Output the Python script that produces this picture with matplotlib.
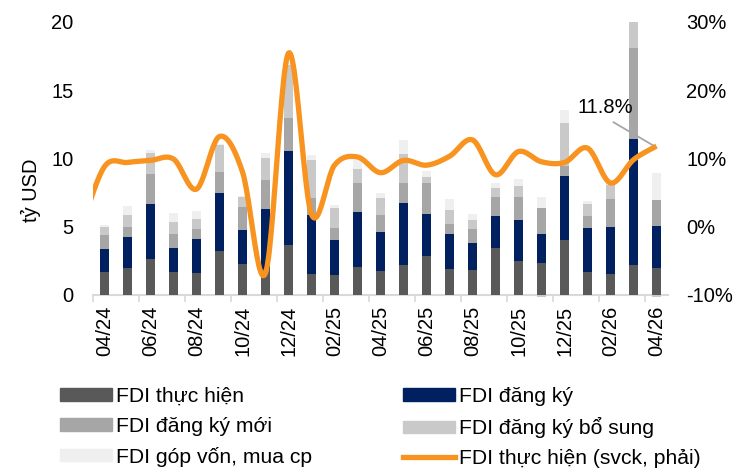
import numpy as np
import matplotlib
matplotlib.use("Agg")
from matplotlib import pyplot as plt
from matplotlib.patches import Patch
from matplotlib.lines import Line2D

plt.rcParams['font.family'] = ['Liberation Sans', 'DejaVu Sans']

months = ["04/24", "05/24", "06/24", "07/24", "08/24", "09/24", "10/24", "11/24", "12/24",
          "01/25", "02/25", "03/25", "04/25", "05/25", "06/25", "07/25", "08/25", "09/25",
          "10/25", "11/25", "12/25", "01/26", "02/26", "03/26", "04/26"]

# tỷ USD
fdi_thuc_hien = [1.66, 1.95, 2.61, 1.71, 1.59, 3.20, 2.27, 1.90, 3.66, 1.54, 1.44, 2.05, 1.78,
                 2.19, 2.85, 1.90, 1.83, 3.41, 2.49, 2.32, 4.02, 1.71, 1.54, 2.19, 2.00]
fdi_dang_ky = [1.70, 2.32, 4.05, 1.75, 2.51, 4.28, 2.48, 4.37, 6.87, 4.31, 2.58, 4.04, 2.85,
               4.56, 3.10, 2.56, 2.00, 2.39, 3.00, 2.14, 4.71, 3.22, 3.46, 9.22, 3.05]
fdi_moi = [1.03, 0.73, 2.19, 1.00, 0.73, 1.52, 1.67, 2.14, 2.40, 1.27, 0.88, 2.12, 1.24,
           1.42, 2.26, 0.71, 1.02, 1.37, 1.70, 1.88, 0.71, 0.85, 2.02, 6.70, 1.90]
fdi_bo_sung = [0.60, 0.85, 1.56, 0.90, 0.73, 1.97, 0.73, 1.59, 3.90, 2.76, 1.46, 1.01, 1.25,
               2.14, 0.44, 1.05, 0.66, 0.68, 0.78, -0.17, 3.16, 0.88, 1.00, 1.90, -0.17]
fdi_gop_von = [0.10, 0.68, 0.20, 0.61, 0.58, 0.05, 0.10, 0.37, 0.20, 0.36, 0.22, 0.66, 0.36,
               1.03, 0.44, 0.80, 0.39, 0.36, 0.52, 0.81, 0.93, 0.20, 0.20, 0.00, 1.95]

# %, trục phải (điểm đầu tiên là 03/24, nằm ngoài khung)
line_months = ["03/24"] + months
fdi_svck = [0.0, 8.8, 9.4, 9.7, 9.9, 5.5, 13.2, 8.0, -6.8, 25.4, 1.8, 9.0, 10.2, 7.9,
            9.7, 9.0, 10.3, 12.7, 7.6, 11.0, 9.5, 9.4, 11.5, 6.4, 9.8, 11.8]

c_th = '#595959'
c_dk = '#002060'
c_moi = '#A6A6A6'
c_bs = '#C9C9C9'
c_gv = '#EFEFEF'
c_line = '#F7931E'


def smooth(xs, ys, n=24):
    pts = np.column_stack([xs, ys]).astype(float)
    p = np.vstack([pts[0], pts, pts[-1]])
    out = []
    t = np.linspace(0, 1, n, endpoint=False)[:, None]
    for i in range(1, len(p) - 2):
        p0, p1, p2, p3 = p[i - 1], p[i], p[i + 1], p[i + 2]
        c1 = p1 + (p2 - p0) / 6
        c2 = p2 - (p3 - p1) / 6
        seg = (1 - t) ** 3 * p1 + 3 * (1 - t) ** 2 * t * c1 + 3 * (1 - t) * t ** 2 * c2 + t ** 3 * p2
        out.append(seg)
    out.append(pts[-1:])
    return np.vstack(out)


fig = plt.figure(figsize=(7.47, 4.70), dpi=100)
ax = fig.add_axes([93 / 747, 175 / 470, 575 / 747, 273.3 / 470])
ax2 = ax.twinx()
ax.set_zorder(1)
ax2.set_zorder(2)

x = np.arange(len(months))
w = 0.42
series = [(fdi_thuc_hien, c_th), (fdi_dang_ky, c_dk), (fdi_moi, c_moi),
          (fdi_bo_sung, c_bs), (fdi_gop_von, c_gv)]
bottom = np.zeros(len(months))
for vals, col in series:
    vals = np.array(vals)
    b = np.where(vals >= 0, bottom, 0)
    ax.bar(x, vals, w, bottom=b, color=col, linewidth=0, clip_on=False, zorder=2)
    bottom = bottom + np.clip(vals, 0, None)

ax.set_xlim(-0.5, len(months) - 0.5)
ax.set_ylim(0, 20)
ax.set_yticks([0, 5, 10, 15, 20])
ax.set_xticks(x[::2])
ax.set_xticklabels(months[::2], rotation=90)
ax.set_xticks(np.arange(-0.5, len(months), 2), minor=True)
ax.tick_params(axis='x', which='major', length=0, pad=8, labelsize=14.5)
ax.tick_params(axis='x', which='minor', length=5, color='#D9D9D9', width=1.2)
ax.tick_params(axis='y', length=0, pad=14, labelsize=14.5)
for s in ['top', 'left', 'right']:
    ax.spines[s].set_visible(False)
ax.spines['bottom'].set_color('#D9D9D9')
ax.spines['bottom'].set_linewidth(1.5)
ax.spines['bottom'].set_zorder(1)

lx = np.arange(len(line_months)) - 1
curve = smooth(lx, fdi_svck)
ax2.plot(curve[:, 0], curve[:, 1], color=c_line, lw=3.8, solid_capstyle='butt')
ax2.set_ylim(-10, 30)
ax2.set_yticks([-10, 0, 10, 20, 30])
ax2.set_yticklabels([f'{v}%' for v in [-10, 0, 10, 20, 30]])
ax2.tick_params(axis='y', length=0, pad=13, labelsize=14.5)
for s in ax2.spines.values():
    s.set_visible(False)
ax2.set_xlim(-0.5, len(months) - 0.5)

ax2.annotate(f'{fdi_svck[-1]}%', xy=(len(months) - 1.15, fdi_svck[-1] + 0.1), xytext=(21.76, 17.4),
             ha='center', va='center', fontsize=14.5,
             arrowprops=dict(arrowstyle='-', color='#A6A6A6', lw=1.3,
                             shrinkA=3, shrinkB=0, relpos=(0.5, 0)))

fig.text(31 / 747, 1 - 190 / 470, 'tỷ USD', rotation=90, ha='center', va='center', fontsize=14.5)

h1 = [Patch(color=c_th), Patch(color=c_moi), Patch(color=c_gv)]
l1 = ['FDI thực hiện', 'FDI đăng ký mới', 'FDI góp vốn, mua cp']
h2 = [Patch(color=c_dk), Patch(color=c_bs), Line2D([], [], color=c_line, lw=3.8)]
l2 = ['FDI đăng ký', 'FDI đăng ký bổ sung', 'FDI thực hiện (svck, phải)']
kw = dict(loc='upper left', frameon=False, fontsize=15.2, handlelength=2.45, handleheight=0.5,
          handletextpad=0.2, labelspacing=0.52, borderpad=0, borderaxespad=0)
leg1 = fig.legend(h1, l1, bbox_to_anchor=(60 / 747, 1 - 387 / 470), **kw)
leg2 = fig.legend(h2, l2, bbox_to_anchor=(403 / 747, 1 - 387 / 470), **kw)

fig.savefig('out.png', dpi=100)
